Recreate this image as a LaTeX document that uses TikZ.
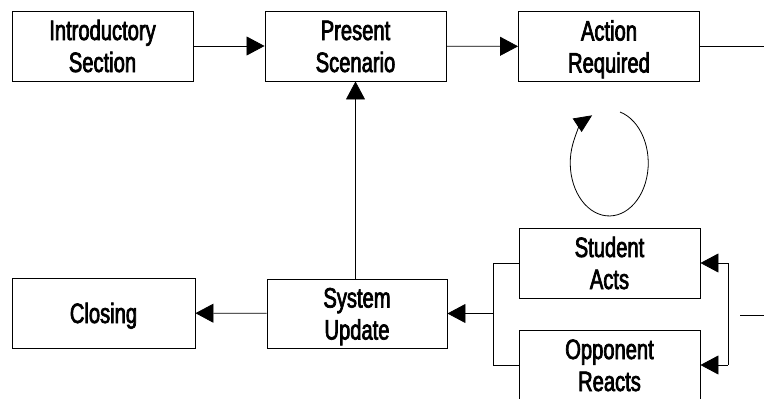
\documentclass[tikz,border=0pt]{standalone}
\usepackage{fontspec}
\newfontfamily\boxfont[FakeStretch=0.72,FakeBold=2.5]{Liberation Sans}
\usetikzlibrary{arrows.meta}
\begin{document}
\begin{tikzpicture}[x=1pt,y=-1pt,
  stepbox/.style={draw,line width=0.9pt,minimum width=181pt,minimum height=70pt,inner sep=0pt,
    align=center,font=\boxfont\fontsize{28}{32}\selectfont,text height=52pt,text depth=0pt},
  onebox/.style={stepbox,text height=20pt},
  conn/.style={line width=0.8pt},
  arr/.style={conn,-{Triangle[length=18pt,width=19pt]}},
  larr/.style={conn,-{Triangle[length=18pt,width=16pt]}}]
\useasboundingbox (0,0) rectangle (764,399);
\node[stepbox] (intro) at (102.5,46) {Introductory\\Section};
\node[stepbox] (present) at (355.5,46) {Present\\Scenario};
\node[stepbox] (action) at (609,46.5) {Action\\Required};
\node[stepbox] (student) at (609.5,263) {Student\\Acts};
\node[stepbox] (opponent) at (609.5,365) {Opponent\\Reacts};
\node[stepbox,minimum width=180pt,minimum height=69pt] (system) at (357,313.5) {System\\Update};
\node[onebox,minimum width=183pt] (closing) at (103.5,313) {Closing};
\coordinate (actout) at (764,46.5);
\coordinate (lt) at (493,263);
\coordinate (lb) at (493,365);
\coordinate (lm) at (493,313.5);
\coordinate (rt) at (728,263);
\coordinate (rb) at (728,365);
\coordinate (rs1) at (740,315);
\coordinate (rs2) at (764,315);
\coordinate (loopstart) at (620,112);
\draw[arr] (intro) -- (present);
\draw[arr] (present) -- (action);
\draw[conn] (action.east) -- (actout);
\draw[arr] (system.north -| present.south) -- (present.south);
\draw[arr] (system) -- (closing);
\draw[conn] (student.west) -- (lt) -- (lb) -- (opponent.west);
\draw[arr] (lm) -- (system.east);
\draw[arr] (rt) -- (student.east);
\draw[arr] (rb) -- (opponent.east);
\draw[conn] (rt) -- (rb);
\draw[conn] (rs1) -- (rs2);
\draw[larr] (loopstart) arc[start angle=-74, end angle=244, x radius=39, y radius=53];
\end{tikzpicture}
\end{document}
